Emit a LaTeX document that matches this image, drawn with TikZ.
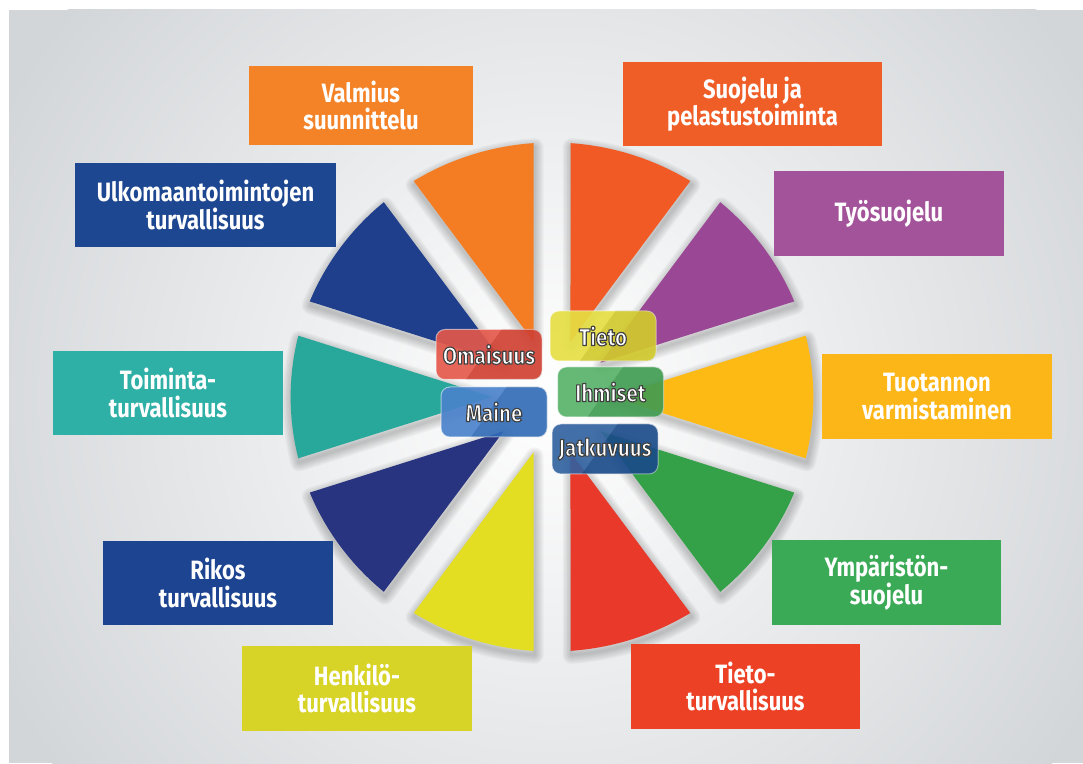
\documentclass[tikz,border=0pt]{standalone}
\usepackage{fontspec}
\setmainfont{Fira Sans}
\newfontfamily\topicfont{Fira Sans}[FakeStretch=0.83]
\newfontfamily\corefont{Fira Sans}[FakeStretch=0.86]
\usetikzlibrary{calc}

% background and wheel colours
\definecolor{bgc}{HTML}{D3D6D9}
% outer boxes
\definecolor{bValm}{HTML}{F48328}
\definecolor{bSuoj}{HTML}{F05E28}
\definecolor{bUlko}{HTML}{1E4791}
\definecolor{bTyo}{HTML}{A35399}
\definecolor{bToim}{HTML}{2EB0A6}
\definecolor{bTuot}{HTML}{FDB617}
\definecolor{bRiko}{HTML}{1D4490}
\definecolor{bYmpa}{HTML}{3AAA56}
\definecolor{bHenk}{HTML}{D8D427}
\definecolor{bTiet}{HTML}{EC4125}
% wheel segments
\definecolor{wValm}{HTML}{F47C22}
\definecolor{wSuoj}{HTML}{F15A24}
\definecolor{wUlko}{HTML}{1F3F8C}
\definecolor{wTyo}{HTML}{9A4796}
\definecolor{wToim}{HTML}{27A89B}
\definecolor{wTuot}{HTML}{FDB914}
\definecolor{wRiko}{HTML}{283480}
\definecolor{wYmpa}{HTML}{34A048}
\definecolor{wHenk}{HTML}{E3DE22}
\definecolor{wTiet}{HTML}{E8392A}
% core labels
\definecolor{cOma}{HTML}{E24636}
\definecolor{cTie}{HTML}{E4DC30}
\definecolor{cIhm}{HTML}{45AA58}
\definecolor{cMai}{HTML}{3675C6}
\definecolor{cJat}{HTML}{1C5196}

\pgfdeclarelayer{shadowlayer}
\pgfsetlayers{shadowlayer,main}

% white lettering with a thin dark outline (fill, then stroke)
\newcommand\outlined[1]{%
  \special{pdf:literal direct 2 Tr 1.15 w 1 J 1 j 0.25 0.25 0.25 RG}#1\special{pdf:literal direct 0 Tr}}

\tikzset{
  topicbox/.style={inner sep=0pt, align=center, text=white,
    font=\topicfont\bfseries\fontsize{26.5}{27.5}\selectfont},
  corebox/.style={rounded corners=9pt, minimum width=106pt, minimum height=50pt,
    inner sep=0pt, fill opacity=0.9, draw=white, draw opacity=0.5, line width=1pt},
  coretext/.style={inner sep=0pt, text=white, font=\corefont\bfseries\fontsize{24}{25}\selectfont}
}

% outer topic box: name, x, y, width, height, colour, text
\newcommand\topic[7]{%
  \node[topicbox, fill=#6, minimum width=#4pt, minimum height=#5pt] (#1) at (#2,#3) {#7};
  \begin{pgfonlayer}{shadowlayer}
    \foreach \k in {1,...,4}
      \draw[black, opacity=0.05, line width=\k*2pt, line join=round]
        ($(#1.south west)+(2,-3)$) rectangle ($(#1.north east)+(2,-3)$);
  \end{pgfonlayer}
}

% glossy core label: name, x, y, colour, text
\newcommand\core[5]{%
  \node[corebox, fill=#4] (#1) at (#2,#3) {};
  \begin{scope}
    \clip[rounded corners=9pt] (#1.south west) rectangle (#1.north east);
    \fill[white, opacity=0.09] (#1.north west) -- ($(#1.north west)!0.62!(#1.north east)$)
      -- ($(#1.south west)!0.28!(#1.south east)$) -- (#1.south west) -- cycle;
    \fill[black, opacity=0.07] ($(#1.north west)!0.62!(#1.north east)$) -- (#1.north east)
      -- (#1.south east) -- ($(#1.south west)!0.28!(#1.south east)$) -- cycle;
  \end{scope}
  \node[coretext] (#1-text) at (#1.center) {\outlined{#5}};
}

\begin{document}
\begin{tikzpicture}[x=1pt,y=1pt]
  % page with a white strip on the top and left
  \fill[white] (0,0) rectangle (1083,763);
  \fill[bgc] (9,0) rectangle (1083,753);
  \useasboundingbox (0,0) rectangle (1083,763);

  % light glow behind the wheel
  \begin{scope}
    \clip (9,0) rectangle (1083,753);
    \shade[inner color=white, outer color=bgc] (552,366) circle (620);
  \end{scope}

  % ten segments of the wheel, 36 degrees each, separated by straight gaps
  \begin{scope}[shift={(552,366)}, xscale=1.027]
    \foreach \a in {90,126,162,198,234,270,306,342,18,54} {
      \pgfmathsetmacro\bis{\a+18}
      \pgfmathsetmacro\sa{\a+4.06}
      \pgfmathsetmacro\ea{\a+31.94}
      \foreach \k in {1,...,6}
        \draw[black, opacity=0.035, line width=\k*3pt, line join=round, shift={(1,-4)}]
          (\bis:58.25) -- (\sa:254.5) arc[start angle=\sa, end angle=\ea, radius=254.5] -- cycle;
    }
    \foreach \a/\col in {90/wValm,126/wUlko,162/wToim,198/wRiko,234/wHenk,
                         270/wTiet,306/wYmpa,342/wTuot,18/wTyo,54/wSuoj} {
      \pgfmathsetmacro\bis{\a+18}
      \pgfmathsetmacro\sa{\a+4.06}
      \pgfmathsetmacro\ea{\a+31.94}
      \fill[\col] (\bis:58.25) -- (\sa:254.5)
        arc[start angle=\sa, end angle=\ea, radius=254.5] -- cycle;
    }
  \end{scope}

  % outer topic boxes
  \topic{valmius}{361}{657.5}{224}{79}{bValm}{Valmius\\suunnittelu}
  \topic{suojelu}{752.5}{659}{259}{84}{bSuoj}{Suojelu ja\\pelastustoiminta}
  \topic{ulkomaa}{205.5}{558}{261}{84}{bUlko}{Ulkomaantoimintojen\\turvallisuus}
  \topic{tyosuojelu}{889}{549.5}{230}{85}{bTyo}{Työsuojelu}
  \topic{toiminta}{168}{370}{230}{84}{bToim}{Toiminta-\\turvallisuus}
  \topic{tuotanto}{937}{366.5}{230}{85}{bTuot}{Tuotannon\\varmistaminen}
  \topic{rikos}{218}{180}{230}{84}{bRiko}{Rikos\\turvallisuus}
  \topic{ymparisto}{886.5}{180.5}{229}{85}{bYmpa}{Ympäristön-\\suojelu}
  \topic{henkilo}{357}{74.5}{230}{85}{bHenk}{Henkilö-\\turvallisuus}
  \topic{tietoturva}{745.5}{76.5}{229}{85}{bTiet}{Tieto-\\turvallisuus}

  % core labels in the middle
  \core{omaisuus}{489}{408.5}{cOma}{Omaisuus}
  \core{tieto}{603}{427}{cTie}{Tieto}
  \core{ihmiset}{610.5}{371}{cIhm}{Ihmiset}
  \core{maine}{494}{351}{cMai}{Maine}
  \core{jatkuvuus}{605}{314}{cJat}{Jatkuvuus}
\end{tikzpicture}
\end{document}
